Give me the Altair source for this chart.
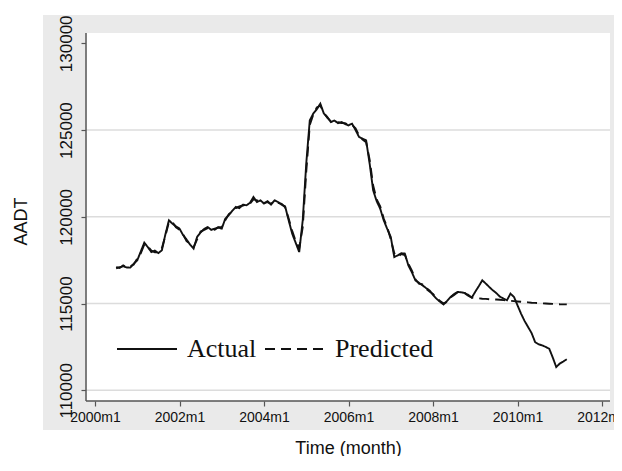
import altair as alt
import pandas as pd

# month index: 0 = 2000m1
start_month = 6
actual = [
    117030, 117100, 117150, 117080, 117070, 117300, 117490, 118000, 118510, 118250,
    117970, 118050, 117910, 118070, 119000, 119800, 119600, 119450, 119320, 118950,
    118690, 118400, 118170, 118840, 119100, 119300, 119410, 119250, 119320, 119380,
    119320, 119890, 120100, 120350, 120570, 120500, 120700, 120660, 120800, 121140,
    120850, 120950, 120760, 120900, 120700, 120950, 120850, 120700, 120600, 119800,
    119030, 118500, 117970, 119800, 123070, 125560, 125950, 126200, 126520, 125950,
    125750, 125460, 125550, 125400, 125460, 125350, 125270, 125370, 125000, 124600,
    124500, 124410, 123070, 121530, 120900, 120470, 119800, 119300, 118840, 117680,
    117780, 117900, 117880, 117200, 116800, 116340, 116200, 116050, 115900, 115760,
    115500, 115280, 115100, 114950, 115150, 115380, 115550, 115670, 115650, 115610,
    115500, 115340, 115680, 116000, 116340, 116150, 115950, 115760, 115600, 115400,
    115290, 115190, 115570, 115380, 114900, 114420, 114000, 113650, 113300, 112780,
    112650, 112590, 112500, 112400, 111900, 111340, 111540, 111660, 111790,
]
predicted = [
    117100, 117050, 117200, 117100, 117150, 117250, 117600, 117900, 118400, 118300,
    118050, 117950, 117950, 118200, 118900, 119700, 119700, 119400, 119250, 119000,
    118600, 118450, 118250, 118700, 119150, 119250, 119350, 119300, 119250, 119400,
    119400, 119800, 120150, 120300, 120500, 120600, 120650, 120700, 120750, 121000,
    120950, 120900, 120800, 120850, 120750, 120900, 120800, 120750, 120550, 119900,
    119200, 118600, 118200, 119400, 122600, 125300, 125900, 126300, 126400, 126000,
    125700, 125500, 125500, 125450, 125400, 125400, 125300, 125300, 125100, 124700,
    124450, 124300, 123300, 121800, 121000, 120600, 119900, 119400, 118700, 117900,
    117700, 117850, 117800, 117300, 116900, 116400, 116150, 116100, 115850, 115700,
    115550, 115300, 115150, 115000, 115100, 115350, 115500, 115650, 115700, 115600,
    115450, 115340, 115320, 115300, 115280, 115270, 115250, 115240, 115230, 115220,
    115200, 115180, 115160, 115140, 115120, 115100, 115080, 115070, 115050, 115040,
    115030, 115010, 115000, 114990, 114980, 114970, 114960, 114955, 114950,
]
x_ticks = [2000, 2002, 2004, 2006, 2008, 2010, 2012]
y_ticks = [110000, 115000, 120000, 125000, 130000]
grid_vals = [110000, 115000, 120000, 125000]
series_names = ["Actual", "Predicted"]
# extent of the white plot region and of the grey graph region (data units)
plot_x_range = [1999.787, 2012.19]
plot_y_range = [109380, 130590]
graph_x_range = [1998.769, 2012.284]
graph_y_range = [107712, 131631]

rows = []
for i, v in enumerate(actual):
    rows.append({"t": 2000 + (start_month + i) / 12, "v": v, "s": "Actual"})
for i, v in enumerate(predicted):
    rows.append({"t": 2000 + (start_month + i) / 12, "v": v, "s": "Predicted"})
df = pd.DataFrame(rows)

W, H = 571, 415
sans = "Liberation Sans, Arial, sans-serif"
serif = "Liberation Serif, Times New Roman, serif"
axis_col = "#555555"

xscale = alt.Scale(domain=graph_x_range, nice=False, zero=False)
yscale = alt.Scale(domain=graph_y_range, nice=False, zero=False)

xaxis = alt.Axis(
    values=x_ticks,
    labelExpr="datum.value + 'm1'",
    title="Time (month)",
    titleFont=sans,
    titleFontSize=18,
    titleFontWeight="normal",
    titleColor="#111",
    titleX=305,
    titleY=47,
    titleBaseline="middle",
    labelFont=sans,
    labelFontSize=14,
    labelColor="#111",
    labelPadding=4,
    offset=-29,
    domain=False,
    tickSize=5,
    tickColor=axis_col,
    tickWidth=1.2,
    grid=False,
    labelOverlap=False,
    labelFlush=False,
    labelBound=False,
)
yaxis = alt.Axis(
    values=y_ticks,
    format="d",
    title="AADT",
    titleFont=sans,
    titleFontSize=18,
    titleFontWeight="normal",
    titleColor="#111",
    titleAngle=270,
    titleX=-65,
    titleY=206,
    titleBaseline="middle",
    titleAlign="center",
    labelFont=sans,
    labelFontSize=17,
    labelColor="#111",
    labelAngle=270,
    labelAlign="center",
    labelBaseline="bottom",
    labelPadding=6,
    offset=-43,
    domain=False,
    tickSize=5,
    tickColor=axis_col,
    tickWidth=1.2,
    grid=False,
    labelOverlap=False,
    labelBound=False,
)

panel_df = pd.DataFrame({
    "x0": [plot_x_range[0]], "x1": [plot_x_range[1]],
    "y0": [plot_y_range[0]], "y1": [plot_y_range[1]],
})
panel = alt.Chart(panel_df).mark_rect(fill="white", strokeWidth=0).encode(
    x=alt.X("x0:Q", scale=xscale, axis=xaxis, title="Time (month)"),
    x2="x1:Q",
    y=alt.Y("y0:Q", scale=yscale, axis=yaxis, title="AADT"),
    y2="y1:Q",
)

grid_df = pd.DataFrame({
    "g": grid_vals,
    "x0": [plot_x_range[0]] * len(grid_vals),
    "x1": [plot_x_range[1]] * len(grid_vals),
})
grid = alt.Chart(grid_df).mark_rule(color="#dcdcdc", strokeWidth=1.5).encode(
    x=alt.X("x0:Q", scale=xscale, axis=xaxis, title="Time (month)"),
    x2="x1:Q",
    y=alt.Y("g:Q", scale=yscale, axis=yaxis, title="AADT"),
)

yline = alt.Chart(panel_df).mark_rule(color=axis_col, strokeWidth=1.5).encode(
    x=alt.X("x0:Q", scale=xscale, axis=xaxis, title="Time (month)"),
    y=alt.Y("y0:Q", scale=yscale, axis=yaxis, title="AADT"),
    y2="y1:Q",
)
xline = alt.Chart(panel_df).mark_rule(color=axis_col, strokeWidth=1.5).encode(
    x=alt.X("x0:Q", scale=xscale, axis=xaxis, title="Time (month)"),
    x2="x1:Q",
    y=alt.Y("y0:Q", scale=yscale, axis=yaxis, title="AADT"),
)

lines = alt.Chart(df).mark_line(strokeWidth=1.9, color="#111111").encode(
    x=alt.X("t:Q", scale=xscale, axis=xaxis, title="Time (month)"),
    y=alt.Y("v:Q", scale=yscale, axis=yaxis, title="AADT"),
    strokeDash=alt.StrokeDash(
        "s:N",
        scale=alt.Scale(domain=series_names, range=[[1, 0], [10, 6]]),
        legend=alt.Legend(
            title=None,
            orient="none",
            legendX=73,
            legendY=303,
            direction="horizontal",
            symbolType="stroke",
            symbolSize=3600,
            symbolStrokeWidth=2,
            symbolStrokeColor="#111",
            labelFont=serif,
            labelFontSize=26,
            labelColor="#111",
            labelOffset=9,
            columnPadding=4,
            padding=0,
        ),
    ),
    detail="s:N",
)

chart = alt.layer(panel, grid, yline, xline, lines).properties(
    width=W,
    height=H,
    autosize=alt.AutoSizeParams(type="none"),
    padding={"left": 35, "top": 7, "right": 0, "bottom": 26},
    background="white",
).configure_view(stroke=None, fill="#eaeaea")

chart.save("out.html", embed_options={"renderer": "svg", "actions": False})
